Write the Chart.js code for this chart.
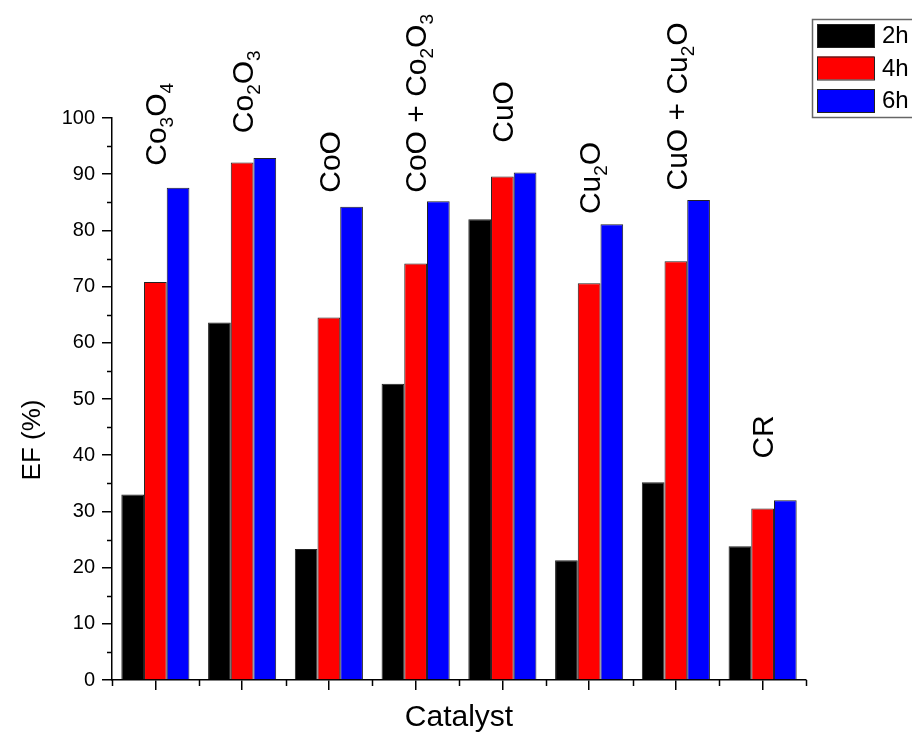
<!DOCTYPE html>
<html>
<head>
<meta charset="utf-8">
<script src="https://cdn.jsdelivr.net/npm/chart.js@4.4.1/dist/chart.umd.min.js"></script>
<style>
  html, body { margin: 0; padding: 0; background: #ffffff; }
  #wrap { width: 912px; height: 737px; }
</style>
</head>
<body>
<div id="wrap"><canvas id="efChart"></canvas></div>
<script>
// catalysts along the x axis (digits are drawn as subscripts)
const catalysts = ['Co3O4', 'Co2O3', 'CoO', 'CoO + Co2O3', 'CuO', 'Cu2O', 'CuO + Cu2O', 'CR'];

// EF (%) after each reaction time
const ef2h = [33.0, 63.6, 23.3, 52.7, 82.0, 21.3, 35.2, 23.8];
const ef4h = [70.8, 92.1, 64.5, 74.1, 89.6, 70.6, 74.5, 30.5];
const ef6h = [87.6, 92.9, 84.2, 85.2, 90.3, 81.1, 85.4, 32.0];

const timeLabels = ['2h', '4h', '6h'];
const yTicks = [0, 10, 20, 30, 40, 50, 60, 70, 80, 90, 100];
const yTitle = 'EF (%)';

// where each rotated catalyst name starts (in EF units)
const nameStart = [91.5, 97.3, 86.7, 86.7, 95.6, 82.9, 87.1, 39.4];

const FONT = '"Liberation Sans", Arial, sans-serif';

// draws minor ticks, rotated catalyst names, y title and the legend box
const decorPlugin = {
    id: 'decor',
    afterDraw(chart) {
        const ctx = chart.ctx;
        const xs = chart.scales.x;
        const ys = chart.scales.y;
        const area = chart.chartArea;

        ctx.save();
        ctx.strokeStyle = '#000';
        ctx.lineWidth = 1.5;

        // minor y ticks
        for (let v = 5; v < 100; v += 10) {
            const py = Math.round(ys.getPixelForValue(v)) + 0.5;
            ctx.beginPath();
            ctx.moveTo(area.left - 5, py);
            ctx.lineTo(area.left, py);
            ctx.stroke();
        }
        // minor x ticks on category edges
        const step = (area.right - area.left) / catalysts.length;
        for (let i = 0; i <= catalysts.length; i++) {
            const px = Math.round(area.left + i * step) + 0.5;
            ctx.beginPath();
            ctx.moveTo(px, area.bottom);
            ctx.lineTo(px, area.bottom + 6);
            ctx.stroke();
        }

        // catalyst names, rotated, digits as subscripts
        ctx.fillStyle = '#000';
        ctx.textBaseline = 'alphabetic';
        ctx.textAlign = 'left';
        const big = 30, small = 19;
        catalysts.forEach((name, i) => {
            const cx = xs.getPixelForValue(i);
            const cy = ys.getPixelForValue(nameStart[i]);
            ctx.save();
            ctx.translate(cx, cy);
            ctx.rotate(-Math.PI / 2);
            let pos = 0;
            for (const ch of name) {
                const isSub = /[0-9]/.test(ch);
                ctx.font = (isSub ? small : big) + 'px ' + FONT;
                ctx.fillText(ch, pos, isSub ? big * 0.36 + 7 : big * 0.36);
                pos += ctx.measureText(ch).width;
            }
            ctx.restore();
        });

        // y axis title, placed lower than centre like the original
        ctx.save();
        ctx.translate(33, 440);
        ctx.rotate(-Math.PI / 2);
        ctx.font = '26px ' + FONT;
        ctx.textAlign = 'center';
        ctx.textBaseline = 'middle';
        ctx.fillText(yTitle, 0, 0);
        ctx.restore();

        // legend box, running off the right edge like the original
        const lx = 812, ly = 19;
        ctx.fillStyle = '#fff';
        ctx.strokeStyle = '#666';
        ctx.lineWidth = 1.5;
        ctx.fillRect(lx, ly, 130, 98);
        ctx.strokeRect(lx + 0.5, ly + 0.5, 130, 98);
        ctx.font = '24px ' + FONT;
        ctx.textAlign = 'left';
        ctx.textBaseline = 'middle';
        chart.data.datasets.forEach((ds, i) => {
            const top = 24 + i * 32.5;
            ctx.fillStyle = ds.backgroundColor;
            ctx.fillRect(817, top, 57, 23);
            ctx.strokeStyle = '#222';
            ctx.lineWidth = 1;
            ctx.strokeRect(817.5, top + 0.5, 57, 23);
            ctx.fillStyle = '#000';
            ctx.fillText(ds.label, 882, top + 12.5);
        });
        ctx.restore();
    }
};

const ctx = document.getElementById('efChart');

window.efChart = new Chart(ctx.getContext('2d'), {
    type: 'bar',
    data: {
        labels: catalysts,
        datasets: [
            { label: timeLabels[0], data: ef2h, backgroundColor: '#000000' },
            { label: timeLabels[1], data: ef4h, backgroundColor: '#ff0000' },
            { label: timeLabels[2], data: ef6h, backgroundColor: '#0000ff' }
        ]
    },
    options: {
        responsive: true,
        maintainAspectRatio: false,
        animation: false,
        layout: {
            padding: { top: 118, right: 106, left: 0, bottom: 0 }
        },
        datasets: {
            bar: {
                borderColor: '#222222',
                borderWidth: 1,
                categoryPercentage: 0.785,
                barPercentage: 1.0
            }
        },
        plugins: {
            legend: { display: false },
            tooltip: { enabled: false }
        },
        scales: {
            x: {
                offset: true,
                grid: {
                    display: true,
                    offset: false,
                    drawOnChartArea: false,
                    tickLength: 10,
                    color: '#000',
                    lineWidth: 1.5
                },
                border: { display: true, color: '#000', width: 1.5 },
                ticks: { display: false },
                title: {
                    display: true,
                    text: 'Catalyst',
                    color: '#000',
                    font: { family: FONT, size: 30, lineHeight: 1.05 }
                },
                afterFit(scale) { scale.height = 57; }
            },
            y: {
                min: 0,
                max: 100,
                afterBuildTicks(scale) {
                    scale.ticks = yTicks.map(v => ({ value: v }));
                },
                grid: {
                    display: true,
                    drawOnChartArea: false,
                    tickLength: 10,
                    color: '#000',
                    lineWidth: 1.5
                },
                border: { display: true, color: '#000', width: 1.5 },
                ticks: {
                    color: '#000',
                    padding: 7,
                    font: { family: FONT, size: 20 }
                },
                title: { display: false },
                afterFit(scale) { scale.width = 112; }
            }
        }
    },
    plugins: [decorPlugin]
});
</script>
</body>
</html>
